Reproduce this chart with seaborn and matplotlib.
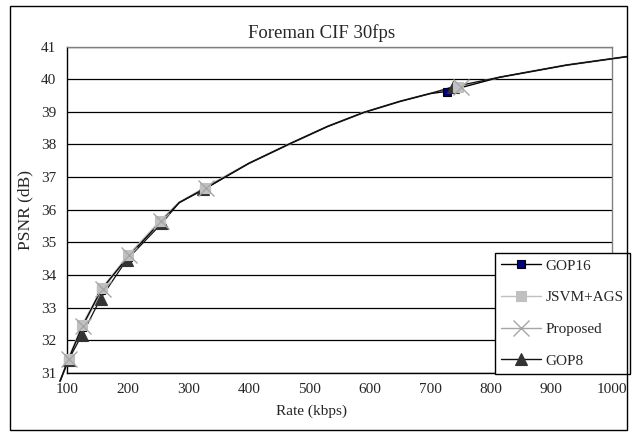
import numpy as np
import pandas as pd
import matplotlib
matplotlib.use("Agg")
import matplotlib.pyplot as plt
from matplotlib.patches import Rectangle
from matplotlib.lines import Line2D
import seaborn as sns

# ---- data ----
# shared read points along the (overlapping) smooth curves, no markers
curve_rate = [88, 285, 400, 470, 530, 590, 650, 700, 815, 925, 1025]
curve_psnr = [30.75, 36.22, 37.42, 38.04, 38.55, 38.98, 39.32, 39.56, 40.06, 40.43, 40.69]

# measured (marked) points for each series
gop16_rate = [101, 124, 156, 200, 254, 326, 727]
gop16_psnr = [31.38, 32.40, 33.55, 34.55, 35.62, 36.62, 39.62]

jsvm_rate = [102, 125, 158, 201, 254, 328, 745]
jsvm_psnr = [31.42, 32.47, 33.60, 34.60, 35.66, 36.68, 39.75]

prop_rate = [103, 126, 159, 202, 255, 330, 750]
prop_psnr = [31.42, 32.45, 33.58, 34.60, 35.65, 36.68, 39.75]

gop8_rate = [102, 124, 155, 198, 256, 325, 738]
gop8_psnr = [31.40, 32.16, 33.28, 34.46, 35.58, 36.63, 39.77]

series_names = ["GOP16", "JSVM+AGS", "Proposed", "GOP8"]
x_ticks = [100, 200, 300, 400, 500, 600, 700, 800, 900, 1000]
y_ticks = [31, 32, 33, 34, 35, 36, 37, 38, 39, 40, 41]

sns.set_style("white")
plt.rcParams["font.family"] = ["Liberation Serif", "DejaVu Serif"]

W, H = 635, 434
fig = plt.figure(figsize=(W / 100, H / 100), dpi=100)
ax = fig.add_axes([67.3 / W, 1 - 373 / H, (611.8 - 67.3) / W, (373 - 46.5) / H])


def build(rate, psnr):
    df = pd.DataFrame({"rate": list(rate) + curve_rate,
                       "psnr": list(psnr) + curve_psnr})
    return df.sort_values("rate").reset_index(drop=True)


styles = {
    "GOP16": dict(rate=gop16_rate, psnr=gop16_psnr, color="black", marker="s",
                  mfc="#000080", mec="black", ms=6, mew=0.8, lz=4, mz=5, lw=0.9),
    "GOP8": dict(rate=gop8_rate, psnr=gop8_psnr, color="#111111", marker="^",
                 mfc="#333333", mec="#333333", ms=8, mew=0.8, lz=4, mz=6, lw=0.9),
    "JSVM+AGS": dict(rate=jsvm_rate, psnr=jsvm_psnr, color="#C0C0C0", marker="s",
                     mfc="#C0C0C0", mec="#C0C0C0", ms=7.5, mew=0.8, lz=3, mz=7, lw=1.6),
    "Proposed": dict(rate=prop_rate, psnr=prop_psnr, color="#A6A6A6", marker="x",
                     mfc="#A6A6A6", mec="#A6A6A6", ms=11, mew=1.0, lz=3, mz=8, lw=1.0),
}

for name in ["JSVM+AGS", "Proposed", "GOP16", "GOP8"]:
    s = styles[name]
    df = build(s["rate"], s["psnr"])
    sns.lineplot(data=df, x="rate", y="psnr", ax=ax, sort=False, estimator=None,
                 color=s["color"], lw=s["lw"], zorder=s["lz"], clip_on=False,
                 legend=False)
for name in ["GOP16", "GOP8", "JSVM+AGS", "Proposed"]:
    s = styles[name]
    ax.plot(s["rate"], s["psnr"], ls="none", marker=s["marker"],
            markerfacecolor=s["mfc"], markeredgecolor=s["mec"],
            markersize=s["ms"], markeredgewidth=s["mew"], zorder=s["mz"],
            clip_on=False)

ax.set_xlim(100, 1000)
ax.set_ylim(31, 41)
ax.set_xticks(x_ticks)
ax.set_yticks(y_ticks)
ax.set_xticklabels([str(v) for v in x_ticks], fontsize=11)
ax.set_yticklabels([str(v) for v in y_ticks], fontsize=11)
ax.tick_params(axis="x", direction="in", length=5, width=1, color="black", pad=7)
ax.tick_params(axis="y", direction="out", length=2, width=1, color="black", pad=6)
ax.yaxis.grid(True, color="black", lw=0.9)
ax.xaxis.grid(False)
ax.set_axisbelow(True)
for sp in ["left", "bottom"]:
    ax.spines[sp].set_color("black")
    ax.spines[sp].set_linewidth(1.0)
for sp in ["top", "right"]:
    ax.spines[sp].set_color("#808080")
    ax.spines[sp].set_linewidth(1.0)

ax.set_xlabel("")
ax.set_ylabel("")
fig.text(322 / W, 1 - 33 / H, "Foreman CIF 30fps", ha="center", va="center", fontsize=13.5)
fig.text(312 / W, 1 - 411 / H, "Rate (kbps)", ha="center", va="center", fontsize=11)
fig.text(25 / W, 1 - 210 / H, "PSNR (dB)", ha="center", va="center", rotation=90, fontsize=12.5)

handles = []
for name in series_names:
    s = styles[name]
    handles.append(Line2D([], [], color=s["color"], lw=1.0, marker=s["marker"],
                          markerfacecolor=s["mfc"], markeredgecolor=s["mec"],
                          markersize=s["ms"], markeredgewidth=s["mew"]))
leg = ax.legend(handles, series_names,
                loc="upper left", bbox_to_anchor=(495 / W, 1 - 253 / H),
                bbox_transform=fig.transFigure, frameon=True, fancybox=False,
                edgecolor="black", framealpha=1, fontsize=11, handlelength=2.6,
                labelspacing=1.17, borderpad=0.4, handletextpad=0.3, borderaxespad=0)
leg.get_frame().set_linewidth(1.0)
leg.set_zorder(10)

fig.patches.append(Rectangle((10 / W, 1 - 430 / H), (627 - 10) / W, (430 - 6) / H,
                             transform=fig.transFigure, fill=False, edgecolor="black",
                             lw=1.0, zorder=20))

fig.savefig("out.png", dpi=100)
